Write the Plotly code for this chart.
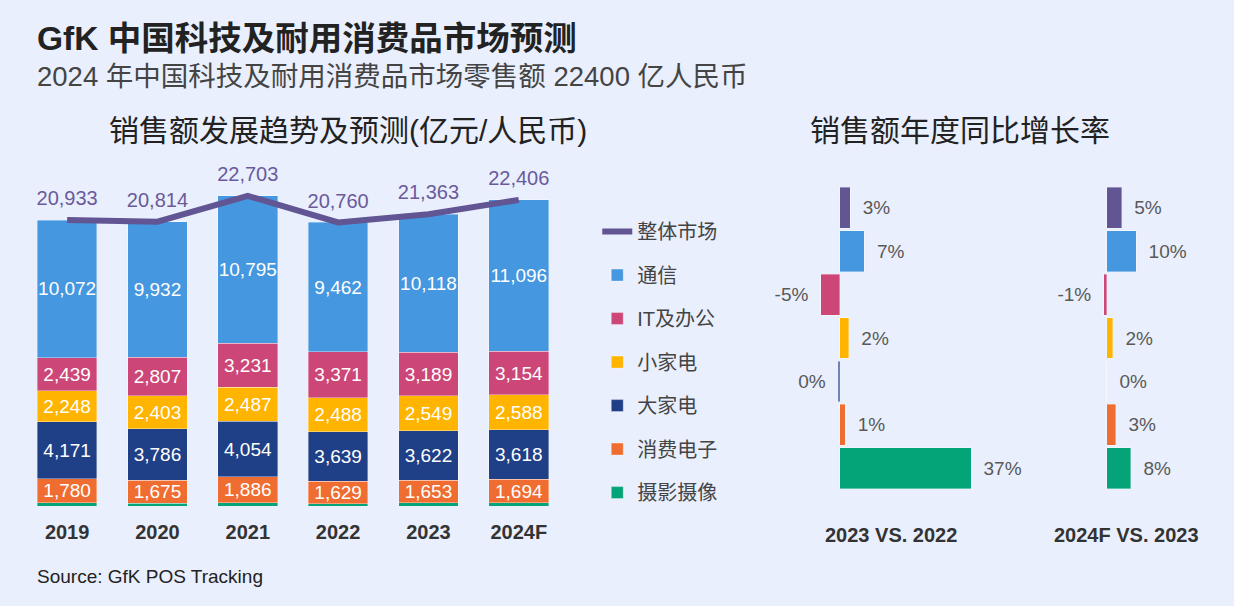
import plotly.graph_objects as go

years = ["2019", "2020", "2021", "2022", "2023", "2024F"]
total = [20933, 20814, 22703, 20760, 21363, 22406]
tongxin = [10072, 9932, 10795, 9462, 10118, 11096]
it_office = [2439, 2807, 3231, 3371, 3189, 3154]
small_app = [2248, 2403, 2487, 2488, 2549, 2588]
big_app = [4171, 3786, 4054, 3639, 3622, 3618]
cons_elec = [1780, 1675, 1886, 1629, 1653, 1694]
photo = [223, 211, 250, 171, 232, 256]

cats = ["整体市场", "通信", "IT及办公", "小家电", "大家电", "消费电子", "摄影摄像"]
colors = ["#625593", "#4597e0", "#cc4677", "#ffb400", "#1f3f87", "#ef6d30", "#05a378"]

yoy_23 = [2.9, 6.9, -5.4, 2.5, -0.5, 1.5, 37.0]
yoy_23_lbl = ["3%", "7%", "-5%", "2%", "0%", "1%", "37%"]
yoy_24 = [4.9, 9.7, -1.1, 2.0, 0.0, 3.0, 8.0]
yoy_24_lbl = ["5%", "10%", "-1%", "2%", "0%", "3%", "8%"]

FONT = "Liberation Sans, Arial, Noto Sans CJK SC, sans-serif"
BG = "#e9effc"
EDGE = dict(width=0.8, color="rgba(255,255,255,0.45)")


def padded(vals, labels):
    sp = "\u2002"
    return [(sp + t) if v >= 0 else (t + sp) for v, t in zip(vals, labels)]


fig = go.Figure()

stack = [
    ("摄影摄像", photo, colors[6], False),
    ("消费电子", cons_elec, colors[5], True),
    ("大家电", big_app, colors[4], True),
    ("小家电", small_app, colors[3], True),
    ("IT及办公", it_office, colors[2], True),
    ("通信", tongxin, colors[1], True),
]
rank = {c: i for i, c in enumerate(cats)}
for name, vals, col, lab in stack:
    fig.add_trace(go.Bar(
        x=years, y=vals, name=name, marker_color=col, marker_line=EDGE,
        width=0.66,
        text=[f"{v:,}" for v in vals] if lab else None,
        textposition="inside", insidetextanchor="middle", textangle=0,
        constraintext="none",
        textfont=dict(color="white", size=20, family=FONT),
        legendrank=rank[name] + 1, legendgroup=name,
        xaxis="x", yaxis="y", cliponaxis=False,
    ))

fig.add_trace(go.Scatter(
    x=years, y=total, name="整体市场", mode="lines",
    line=dict(color=colors[0], width=6), legendrank=0, legendgroup="整体市场",
    xaxis="x", yaxis="y",
))
fig.add_trace(go.Scatter(
    x=years, y=total, mode="markers+text", showlegend=False,
    marker=dict(size=14, opacity=0), text=[f"{v:,}" for v in total],
    textposition="top center", textfont=dict(color="#6a5a9c", size=20, family=FONT),
    xaxis="x", yaxis="y", cliponaxis=False, hoverinfo="skip",
))

fig.add_trace(go.Bar(
    x=yoy_23, y=cats, orientation="h", marker_color=colors, marker_line=EDGE,
    width=0.94,
    text=padded(yoy_23, yoy_23_lbl), textposition="outside", cliponaxis=False,
    textfont=dict(color="#595959", size=19, family=FONT),
    showlegend=False, xaxis="x2", yaxis="y2",
))
fig.add_trace(go.Bar(
    x=yoy_24, y=cats, orientation="h", marker_color=colors, marker_line=EDGE,
    width=0.94,
    text=padded(yoy_24, yoy_24_lbl), textposition="outside", cliponaxis=False,
    textfont=dict(color="#595959", size=19, family=FONT),
    showlegend=False, xaxis="x3", yaxis="y3",
))

fig.update_layout(
    width=1234, height=606,
    paper_bgcolor=BG, plot_bgcolor=BG,
    margin=dict(l=0, r=0, t=0, b=0),
    barmode="stack", bargap=0.34,
    font=dict(family=FONT, color="#333333"),
    uniformtext=dict(minsize=10, mode="show"),
    xaxis=dict(domain=[0.0178, 0.457], showgrid=False, zeroline=False, showline=False,
               tickfont=dict(size=20, color="#333333", family=FONT, weight="bold"),
               ticklabelstandoff=12, anchor="y"),
    yaxis=dict(domain=[0.165, 0.7286], range=[0, 25000], visible=False, anchor="x"),
    xaxis2=dict(domain=[0.652, 0.7955], range=[-10, 40], visible=False, anchor="y2"),
    yaxis2=dict(domain=[0.1914, 0.693], autorange="reversed", visible=False, anchor="x2"),
    xaxis3=dict(domain=[0.8776, 0.9457], range=[-8, 20], visible=False, anchor="y3"),
    yaxis3=dict(domain=[0.1914, 0.693], autorange="reversed", visible=False, anchor="x3"),
    legend=dict(x=0.484, y=0.65, xanchor="left", yanchor="top",
                font=dict(size=20, color="#444444", family=FONT),
                tracegroupgap=14.5, bgcolor="rgba(0,0,0,0)", itemclick=False),
    showlegend=True,
)

ann = [
    dict(text="<b>GfK 中国科技及耐用消费品市场预测</b>", x=0.028, y=0.937, xanchor="left",
         font=dict(size=33.5, color="#222222")),
    dict(text="2024 年中国科技及耐用消费品市场零售额 22400 亿人民币", x=0.028, y=0.873, xanchor="left",
         font=dict(size=27.5, color="#444444")),
    dict(text="销售额发展趋势及预测(亿元/人民币)", x=0.282, y=0.785, xanchor="center",
         font=dict(size=30, color="#222222")),
    dict(text="销售额年度同比增长率", x=0.778, y=0.785, xanchor="center",
         font=dict(size=30, color="#222222")),
    dict(text="<b>2023 VS. 2022</b>", x=0.722, y=0.117, xanchor="center",
         font=dict(size=20, color="#333333")),
    dict(text="<b>2024F VS. 2023</b>", x=0.913, y=0.117, xanchor="center",
         font=dict(size=20, color="#333333")),
    dict(text="Source: GfK POS Tracking", x=0.028, y=0.0495, xanchor="left",
         font=dict(size=19, color="#222222")),
]
for a in ann:
    a.update(xref="paper", yref="paper", yanchor="middle", showarrow=False)
    a["font"]["family"] = FONT
fig.update_layout(annotations=ann)

fig.write_html("out.html", config={"displayModeBar": False},
               post_script="document.body.style.margin='0';")
